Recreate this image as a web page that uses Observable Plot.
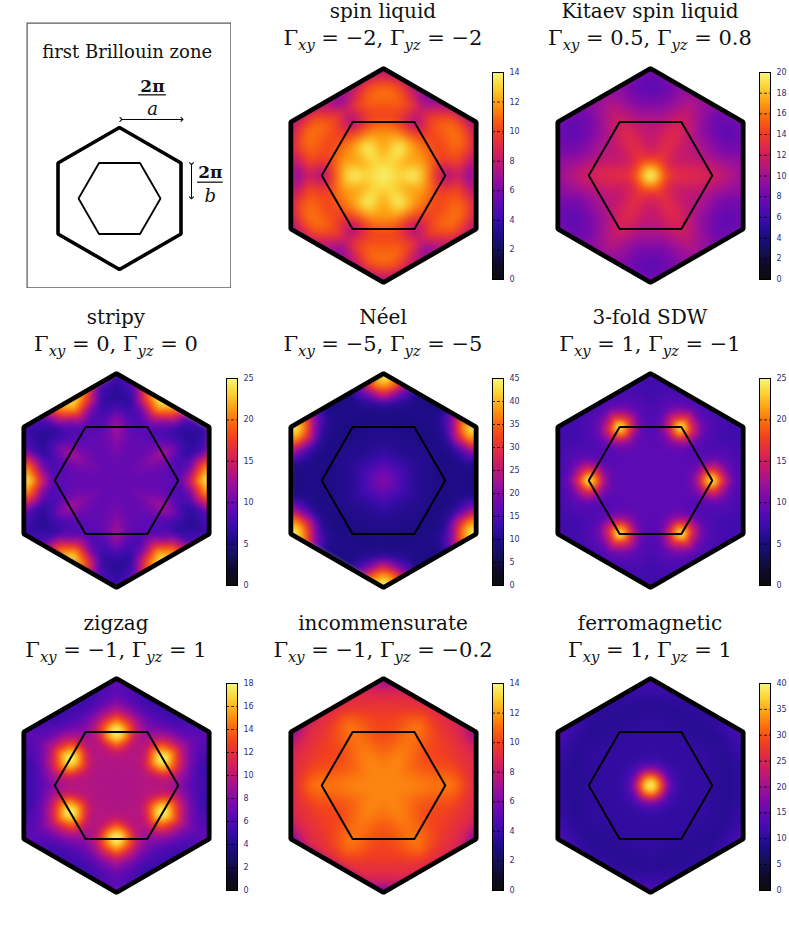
<!DOCTYPE html>
<html><head><meta charset="utf-8">
<script src="https://cdn.jsdelivr.net/npm/d3@7"></script>
<script src="https://cdn.jsdelivr.net/npm/@observablehq/plot@0.6"></script>
<style>
html,body{margin:0;padding:0;background:#fff;}
#root{position:relative;width:789px;height:937px;overflow:hidden;background:#fff;}
.t{position:absolute;width:280px;text-align:center;font-family:"DejaVu Serif",serif;color:#111;white-space:nowrap;line-height:24px;}
.t1{font-size:20px;}
.t2{font-size:21px;}
.t2 sub{font-style:italic;font-size:0.7em;vertical-align:-0.35em;line-height:0;}
.abs{position:absolute;display:block;}
</style></head><body><div id="root"></div>
<script>
// ---------- DATA ----------
const panelNames = ["spin liquid", "Kitaev spin liquid", "stripy", "Néel", "3-fold SDW", "zigzag", "incommensurate", "ferromagnetic"];
const gammaXY = ["−2", "0.5", "0", "−5", "1", "−1", "−1", "1"];
const gammaYZ = ["−2", "0.8", "0", "−5", "−1", "1", "−0.2", "1"];
const colorMax = [14, 20, 25, 45, 25, 18, 14, 40];
const tickStep = [2, 2, 5, 5, 5, 2, 2, 5];

// sample lattice in the irreducible wedge: angle (deg) from the outer-edge-midpoint direction,
// radius as a fraction of the distance to the outer hexagon edge
const sampleAngles = [0, 10, 20, 30];
const sampleFractions = [0, 0.1, 0.2, 0.3, 0.4, 0.5, 0.6, 0.7, 0.8, 0.9, 1.0];

// intensity read at each sample (rows = sampleAngles, columns = sampleFractions)
const spinLiquid = [
  [14, 13.4, 13.2, 14, 13.5, 11, 8.5, 6.5, 8.5, 6.5, 6],
  [14, 13.4, 13, 13.5, 12.8, 11.2, 9.3, 9.2, 10.3, 8.5, 7.5],
  [14, 13.3, 12.6, 12.5, 12.2, 11, 10, 10.5, 11, 10.5, 8.5],
  [14, 13.2, 12.2, 11.8, 11.8, 10.5, 10, 10.8, 11.3, 9.5, 7]];
const kitaevLiquid = [
  [20, 17, 14, 13.2, 13, 12.8, 12.5, 12, 11.3, 10.6, 10],
  [20, 16.8, 13.6, 12.7, 12.5, 12.2, 11.6, 10.8, 10, 9.5, 9.3],
  [20, 16.5, 13, 12, 11.6, 11.2, 10.3, 9.2, 8.3, 7.9, 8.2],
  [20, 16.3, 12.6, 11.6, 11.2, 10.8, 9.7, 8.3, 7.3, 7.4, 8.5]];
const stripy = [
  [9.5, 9.5, 9.5, 9.5, 9.5, 9.3, 9, 9.5, 15, 22, 25],
  [9.5, 9.5, 9.5, 9.5, 9.5, 9.3, 8.5, 8, 10.5, 17, 20],
  [9.5, 9.5, 9.7, 10, 10.3, 10.3, 9.3, 7.5, 6.5, 7.5, 9],
  [9.5, 9.6, 10, 10.8, 12, 13, 11, 7.5, 6, 6.5, 7]];
const neel = [
  [20, 17.5, 14, 11.5, 10.5, 10, 9.5, 9.5, 10, 9.5, 9],
  [20, 17.5, 14, 11.5, 10.5, 10, 9.5, 9.5, 10, 10, 10],
  [20, 17.5, 14, 11.5, 10.5, 10, 9.5, 9.5, 11.5, 20, 30],
  [20, 17.5, 14, 11.5, 10.5, 10, 9.5, 11.5, 27, 40, 45]];
const sdw = [
  [9, 9, 9, 9, 9.2, 12.5, 22, 24, 15.5, 9.5, 8],
  [9, 9, 9, 9, 9.2, 11, 16, 16, 11, 8.5, 8],
  [9, 9, 9, 9, 9, 9, 9.5, 9, 8.5, 8, 7.5],
  [9, 9, 9, 9, 8.8, 8.5, 8.2, 8, 7.5, 7.5, 8]];
const zigzag = [
  [9.5, 9.5, 9.6, 9.7, 9.7, 9.7, 9, 7.8, 6.5, 5.5, 5.5],
  [9.5, 9.5, 9.5, 9.7, 9.8, 10.5, 10.5, 9, 7, 5.5, 5],
  [9.5, 9.5, 9.5, 9.8, 11.5, 15.5, 14.5, 10.5, 7.5, 6, 6],
  [9.5, 9.5, 9.5, 10, 15, 18, 15, 10, 7.5, 6.5, 7]];
const incommensurate = [
  [11.5, 11.5, 11.5, 11.5, 11.4, 11.2, 11.2, 11.4, 11, 9.8, 9],
  [11.5, 11.5, 11.5, 11.4, 11.2, 11, 10.8, 10.7, 10.2, 9.4, 9],
  [11.5, 11.5, 11.4, 11.2, 10.8, 10.4, 10.2, 10, 9.5, 9.2, 8.5],
  [11.5, 11.5, 11.3, 11, 10.5, 10.2, 10, 9.7, 9.2, 8.5, 5.5]];
const ferromagnetic = [
  [40, 31, 15.5, 11, 10.5, 10.5, 10.5, 10, 9.5, 10, 10.5],
  [40, 31, 15.5, 11, 10.5, 10.5, 10.5, 10, 9.5, 10, 10.5],
  [40, 30, 14.5, 11, 10.5, 10.5, 10.5, 10, 9.5, 10.5, 11.5],
  [40, 28, 12.5, 11, 10.5, 10.5, 10.5, 10, 10, 11.5, 14]];

// extra readings near sharp peaks: [radius, angle (deg), intensity]
const spinLiquidPeaks = [];
const kitaevPeaks = [[0.05, 0, 19], [0.05, 15, 19], [0.05, 30, 19]];
const stripyPeaks = [[0.83, 0, 24], [0.869, 5, 23.5], [0.75, 5, 17.5]];
const neelPeaks = [[0.95, 30, 44], [0.955, 25, 40], [0.88, 25, 35]];
const sdwPeaks = [[0.577, 0, 25], [0.58, 5, 22.5], [0.6, 8, 18]];
const zigzagPeaks = [[0.5, 25, 17.5], [0.45, 30, 17.5], [0.55, 30, 17.5]];
const incommensuratePeaks = [[0.95, 30, 7]];
const ferroPeaks = [[0.05, 0, 37], [0.05, 15, 37], [0.05, 30, 37]];

const grids = [spinLiquid, kitaevLiquid, stripy, neel, sdw, zigzag, incommensurate, ferromagnetic];
const peaks = [spinLiquidPeaks, kitaevPeaks, stripyPeaks, neelPeaks, sdwPeaks, zigzagPeaks, incommensuratePeaks, ferroPeaks];

// ---------- STYLE / LAYOUT ----------
const paletteStops = ["#0c0c0c","#0e0a2a","#14105a","#1e0c86","#3a0caa","#5a0ab4","#7c0aaa","#a01296","#c4186e","#e0284a","#f2401e","#fa6a0e","#fca012","#fcd232","#f6f87a"];
const cmap = d3.piecewise(d3.interpolateRgb, paletteStops);
const blurRadius = [4, 3, 2, 2, 2, 2, 3, 2];
const panelCol = [1, 2, 0, 1, 2, 0, 1, 2];
const panelRow = [0, 0, 1, 1, 1, 2, 2, 2];
const colCenter = [116, 383, 650];
const rowCenter = [175, 480, 785];
const barLeft = [226, 492, 759];
const barTop = [72, 378, 683];
const titleBase = [18, 324, 630];

const ns = "http://www.w3.org/2000/svg";
const root = document.getElementById("root");
const deg = Math.PI / 180;
const S3 = Math.sqrt(3);

function ring(vr, vStart, mr) {
  const p = [];
  const m0 = vStart - 30;
  p.push({x: mr * Math.cos(m0 * deg), y: mr * Math.sin(m0 * deg)});
  for (let k = 0; k < 6; k++) {
    const a = (vStart + 60 * k) * deg;
    p.push({x: vr * Math.cos(a), y: vr * Math.sin(a)});
  }
  p.push(p[0]);
  return p;
}
const outerHex = ring(1, 30, S3 / 2);
const innerHex = ring(1 / S3, 60, 0.5);

function expand(grid, extra) {
  const pts = [];
  grid.forEach((row, i) => {
    const th = sampleAngles[i];
    const rE = (S3 / 2) / Math.cos(th * deg);
    row.forEach((v, j) => pts.push([sampleFractions[j] * rE, th, v]));
  });
  extra.forEach(e => pts.push(e));
  const out = new Map();
  for (const [r, th, v] of pts) for (let k = 0; k < 6; k++) for (const s of [1, -1]) {
    const a = (60 * k + s * th) * deg;
    const x = r * Math.cos(a), y = r * Math.sin(a);
    const key = (Math.round(x * 1e4) + 0) + "," + (Math.round(y * 1e4) + 0);
    out.set(key, {x, y, v});
  }
  return [...out.values()];
}

function place(el, left, top) {
  el.classList.add("abs");
  el.style.position = "absolute";
  el.style.left = left + "px";
  el.style.top = top + "px";
  root.appendChild(el);
}

// ---------- first Brillouin zone panel ----------
{
  const u = 71;
  const W = 205, H = 266;
  const cx = 93, cy = 176;
  const svg = Plot.plot({
    width: W, height: H, margin: 0,
    x: {domain: [-cx / u, (W - cx) / u], axis: null},
    y: {domain: [-(H - cy) / u, cy / u], axis: null},
    marks: [
      Plot.frame({stroke: "#555", strokeWidth: 1.2, inset: 0.6}),
      Plot.line(outerHex, {x: "x", y: "y", stroke: "#000", strokeWidth: 3.6, strokeLinejoin: "miter"}),
      Plot.line(innerHex, {x: "x", y: "y", stroke: "#000", strokeWidth: 1.8, strokeLinejoin: "miter"}),
      Plot.link([{x1: 0.02, y1: 1.113, x2: 0.88, y2: 1.113}, {x1: 1.014, y1: 0.49, x2: 1.014, y2: 0.01}],
        {x1: "x1", y1: "y1", x2: "x2", y2: "y2", stroke: "#000", strokeWidth: 1, markerStart: "arrow", markerEnd: "arrow"}),
      Plot.ruleY([{y: 1.46, x1: 0.27, x2: 0.66}, {y: 0.23, x1: 1.1, x2: 1.46}], {y: "y", x1: "x1", x2: "x2", stroke: "#000", strokeWidth: 1.2}),
      Plot.text([{x: 0.108, y: 1.98, t: "first Brillouin zone"}], {x: "x", y: "y", text: "t", fontSize: 18, fontFamily: "DejaVu Serif", lineAnchor: "bottom", fill: "#111"}),
      Plot.text([{x: 0.465, y: 1.5, t: "2π"}, {x: 1.28, y: 0.29, t: "2π"}], {x: "x", y: "y", text: "t", fontSize: 17, fontWeight: "bold", fontFamily: "DejaVu Serif", lineAnchor: "bottom", fill: "#111"}),
      Plot.text([{x: 0.465, y: 1.17, t: "a"}, {x: 1.28, y: -0.05, t: "b"}], {x: "x", y: "y", text: "t", fontSize: 18, fontStyle: "italic", fontFamily: "DejaVu Serif", lineAnchor: "bottom", fill: "#111"})
    ]
  });
  place(svg, 26, 22);
}

// ---------- heat-map panels ----------
panelNames.forEach((name, i) => {
  const cx = colCenter[panelCol[i]], cy = rowCenter[panelRow[i]];
  const pts = expand(grids[i], peaks[i]);
  const size = 230, half = (size / 2) / 107;
  const color = {type: "linear", domain: [0, colorMax[i]], interpolate: cmap, clamp: true};
  const svg = Plot.plot({
    width: size, height: size, margin: 0,
    x: {domain: [-half, half], axis: null},
    y: {domain: [-half, half], axis: null},
    color,
    marks: [
      Plot.raster(pts, {x: "x", y: "y", fill: "v", interpolate: "barycentric", pixelSize: 1, blur: blurRadius[i]}),
      Plot.line(innerHex, {x: "x", y: "y", stroke: "#000", strokeWidth: 2, strokeLinejoin: "miter"}),
      Plot.line(outerHex, {x: "x", y: "y", stroke: "#000", strokeWidth: 4.8, strokeLinejoin: "miter"})
    ]
  });
  // clip the raster to the outer hexagon
  const sx = svg.scale("x"), sy = svg.scale("y");
  const img = svg.querySelector("image");
  if (img) {
    const cp = document.createElementNS(ns, "clipPath");
    cp.setAttribute("id", "hexclip" + i);
    const poly = document.createElementNS(ns, "polygon");
    poly.setAttribute("points", outerHex.slice(1, 7).map(p => sx.apply(p.x) + "," + sy.apply(p.y)).join(" "));
    cp.appendChild(poly);
    svg.insertBefore(cp, svg.firstChild);
    const g = document.createElementNS(ns, "g");
    img.parentNode.insertBefore(g, img);
    g.appendChild(img);
    g.setAttribute("clip-path", "url(#hexclip" + i + ")");
  }
  place(svg, cx - size / 2, cy - size / 2);

  // colour bar
  const max = colorMax[i];
  const ticks = d3.range(0, max + 1e-9, tickStep[i]);
  const bar = Plot.plot({
    width: 42, height: 215, marginLeft: 0, marginRight: 31, marginTop: 4, marginBottom: 4,
    x: {domain: [0, 1], axis: null},
    y: {domain: [0, max], axis: null},
    color,
    style: {color: "#2d2d78", background: "transparent"},
    marks: [
      Plot.raster({fill: (x, y) => y, x1: 0, x2: 1, y1: 0, y2: max, pixelSize: 1}),
      Plot.ruleY(ticks.slice(1, -1), {x1: 0, x2: 1, stroke: "#000", strokeOpacity: 0.75, strokeDasharray: "3,2"}),
      Plot.frame({stroke: "#000", strokeWidth: 1}),
      Plot.axisY(ticks, {anchor: "right", tickSize: 0, tickPadding: 6, fontSize: 8, fontFamily: "DejaVu Sans", tickFormat: d => String(d)})
    ]
  });
  place(bar, barLeft[panelCol[i]], barTop[panelRow[i]] - 4);

  // title (two lines)
  const base = titleBase[panelRow[i]];
  const t1 = document.createElement("div");
  t1.className = "t t1";
  t1.textContent = name;
  t1.style.left = (cx - 140) + "px";
  t1.style.top = (base - 19.4) + "px";
  root.appendChild(t1);
  const t2 = document.createElement("div");
  t2.className = "t t2";
  t2.innerHTML = `Γ<sub>xy</sub> = ${gammaXY[i]}, Γ<sub>yz</sub> = ${gammaYZ[i]}`;
  t2.style.left = (cx - 140) + "px";
  t2.style.top = (base + 28 - 20.3) + "px";
  root.appendChild(t2);
});
</script></body></html>
